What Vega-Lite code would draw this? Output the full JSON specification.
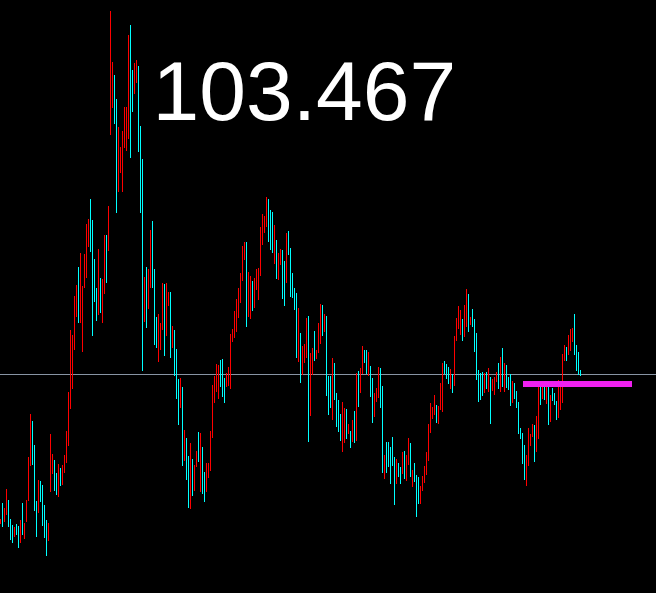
{
  "$schema": "https://vega.github.io/schema/vega-lite/v6.json",
  "width": 656,
  "height": 593,
  "autosize": {"type": "none"},
  "padding": 0,
  "background": "#000000",
  "config": {"view": {"stroke": null}},
  "datasets": {
    "bars": [
      {"i":0,"h":519,"l":524,"d":"u"},{"i":1,"h":503,"l":527,"d":"d"},{"i":2,"h":508,"l":522,"d":"u"},{"i":3,"h":489,"l":515,"d":"u"},
      {"i":4,"h":500,"l":527,"d":"d"},{"i":5,"h":519,"l":540,"d":"d"},{"i":6,"h":525,"l":543,"d":"d"},{"i":7,"h":527,"l":537,"d":"u"},
      {"i":8,"h":524,"l":535,"d":"d"},{"i":9,"h":526,"l":548,"d":"d"},{"i":10,"h":520,"l":543,"d":"u"},{"i":11,"h":503,"l":535,"d":"d"},
      {"i":12,"h":523,"l":539,"d":"u"},{"i":13,"h":500,"l":522,"d":"u"},{"i":14,"h":457,"l":501,"d":"u"},{"i":15,"h":414,"l":466,"d":"u"},
      {"i":16,"h":421,"l":465,"d":"d"},{"i":17,"h":445,"l":511,"d":"d"},{"i":18,"h":501,"l":537,"d":"d"},{"i":19,"h":480,"l":513,"d":"u"},
      {"i":20,"h":481,"l":502,"d":"d"},{"i":21,"h":485,"l":526,"d":"d"},{"i":22,"h":505,"l":538,"d":"d"},{"i":23,"h":520,"l":556,"d":"d"},
      {"i":24,"h":523,"l":541,"d":"u"},{"i":25,"h":434,"l":492,"d":"u"},{"i":26,"h":454,"l":474,"d":"u"},{"i":27,"h":460,"l":491,"d":"d"},
      {"i":28,"h":473,"l":495,"d":"d"},{"i":29,"h":464,"l":497,"d":"u"},{"i":30,"h":468,"l":486,"d":"d"},{"i":31,"h":465,"l":485,"d":"u"},
      {"i":32,"h":455,"l":473,"d":"u"},{"i":33,"h":431,"l":463,"d":"u"},{"i":34,"h":392,"l":446,"d":"u"},{"i":35,"h":330,"l":409,"d":"u"},
      {"i":36,"h":335,"l":389,"d":"u"},{"i":37,"h":296,"l":350,"d":"u"},{"i":38,"h":285,"l":317,"d":"u"},{"i":39,"h":267,"l":323,"d":"d"},
      {"i":40,"h":253,"l":323,"d":"u"},{"i":41,"h":286,"l":352,"d":"u"},{"i":42,"h":254,"l":288,"d":"u"},{"i":43,"h":224,"l":278,"d":"u"},
      {"i":44,"h":219,"l":247,"d":"u"},{"i":45,"h":199,"l":252,"d":"d"},{"i":46,"h":220,"l":336,"d":"d"},{"i":47,"h":259,"l":302,"d":"d"},
      {"i":48,"h":288,"l":321,"d":"d"},{"i":49,"h":249,"l":315,"d":"u"},{"i":50,"h":278,"l":313,"d":"d"},{"i":51,"h":279,"l":323,"d":"u"},
      {"i":52,"h":235,"l":294,"d":"u"},{"i":53,"h":235,"l":283,"d":"d"},{"i":54,"h":206,"l":251,"d":"u"},{"i":55,"h":11,"l":135,"d":"u"},
      {"i":56,"h":62,"l":108,"d":"u"},{"i":57,"h":75,"l":124,"d":"d"},{"i":58,"h":99,"l":213,"d":"d"},{"i":59,"h":127,"l":192,"d":"u"},
      {"i":60,"h":147,"l":173,"d":"u"},{"i":61,"h":131,"l":192,"d":"u"},{"i":62,"h":107,"l":148,"d":"u"},{"i":63,"h":107,"l":151,"d":"u"},
      {"i":64,"h":35,"l":139,"d":"u"},{"i":65,"h":25,"l":158,"d":"d"},{"i":66,"h":70,"l":112,"d":"d"},{"i":67,"h":63,"l":94,"d":"u"},
      {"i":68,"h":60,"l":83,"d":"u"},{"i":69,"h":66,"l":152,"d":"d"},{"i":70,"h":126,"l":213,"d":"d"},{"i":71,"h":159,"l":371,"d":"d"},
      {"i":72,"h":277,"l":322,"d":"u"},{"i":73,"h":267,"l":328,"d":"d"},{"i":74,"h":269,"l":309,"d":"u"},{"i":75,"h":230,"l":288,"d":"u"},
      {"i":76,"h":221,"l":288,"d":"d"},{"i":77,"h":269,"l":345,"d":"d"},{"i":78,"h":317,"l":348,"d":"d"},{"i":79,"h":314,"l":362,"d":"u"},
      {"i":80,"h":323,"l":350,"d":"u"},{"i":81,"h":283,"l":330,"d":"u"},{"i":82,"h":284,"l":356,"d":"d"},{"i":83,"h":283,"l":336,"d":"u"},
      {"i":84,"h":292,"l":306,"d":"u"},{"i":85,"h":292,"l":358,"d":"d"},{"i":86,"h":326,"l":348,"d":"u"},{"i":87,"h":330,"l":376,"d":"d"},
      {"i":88,"h":349,"l":399,"d":"d"},{"i":89,"h":379,"l":425,"d":"d"},{"i":90,"h":378,"l":408,"d":"u"},{"i":91,"h":387,"l":466,"d":"d"},
      {"i":92,"h":430,"l":461,"d":"u"},{"i":93,"h":438,"l":480,"d":"d"},{"i":94,"h":456,"l":508,"d":"d"},{"i":95,"h":443,"l":509,"d":"u"},
      {"i":96,"h":459,"l":496,"d":"d"},{"i":97,"h":465,"l":491,"d":"u"},{"i":98,"h":451,"l":467,"d":"u"},{"i":99,"h":432,"l":462,"d":"d"},
      {"i":100,"h":433,"l":492,"d":"u"},{"i":101,"h":447,"l":494,"d":"d"},{"i":102,"h":472,"l":502,"d":"d"},{"i":103,"h":463,"l":492,"d":"u"},
      {"i":104,"h":463,"l":478,"d":"u"},{"i":105,"h":431,"l":471,"d":"u"},{"i":106,"h":385,"l":438,"d":"u"},{"i":107,"h":376,"l":403,"d":"u"},
      {"i":108,"h":364,"l":392,"d":"u"},{"i":109,"h":365,"l":399,"d":"u"},{"i":110,"h":360,"l":387,"d":"d"},{"i":111,"h":359,"l":397,"d":"d"},
      {"i":112,"h":378,"l":403,"d":"d"},{"i":113,"h":373,"l":387,"d":"u"},{"i":114,"h":367,"l":386,"d":"u"},{"i":115,"h":334,"l":389,"d":"u"},
      {"i":116,"h":329,"l":342,"d":"u"},{"i":117,"h":311,"l":338,"d":"u"},{"i":118,"h":299,"l":332,"d":"u"},{"i":119,"h":288,"l":318,"d":"u"},
      {"i":120,"h":273,"l":303,"d":"u"},{"i":121,"h":246,"l":281,"d":"u"},{"i":122,"h":242,"l":260,"d":"u"},{"i":123,"h":242,"l":327,"d":"d"},
      {"i":124,"h":272,"l":317,"d":"u"},{"i":125,"h":276,"l":319,"d":"u"},{"i":126,"h":281,"l":311,"d":"d"},{"i":127,"h":278,"l":308,"d":"u"},
      {"i":128,"h":269,"l":290,"d":"u"},{"i":129,"h":268,"l":300,"d":"u"},{"i":130,"h":227,"l":276,"d":"u"},{"i":131,"h":214,"l":245,"d":"u"},
      {"i":132,"h":216,"l":233,"d":"u"},{"i":133,"h":197,"l":227,"d":"u"},{"i":134,"h":199,"l":242,"d":"d"},{"i":135,"h":210,"l":250,"d":"d"},
      {"i":136,"h":212,"l":253,"d":"d"},{"i":137,"h":225,"l":264,"d":"u"},{"i":138,"h":240,"l":279,"d":"d"},{"i":139,"h":253,"l":280,"d":"u"},
      {"i":140,"h":249,"l":265,"d":"u"},{"i":141,"h":250,"l":299,"d":"d"},{"i":142,"h":261,"l":306,"d":"d"},{"i":143,"h":233,"l":283,"d":"u"},
      {"i":144,"h":231,"l":255,"d":"d"},{"i":145,"h":248,"l":297,"d":"d"},{"i":146,"h":273,"l":298,"d":"d"},{"i":147,"h":288,"l":310,"d":"d"},
      {"i":148,"h":293,"l":358,"d":"d"},{"i":149,"h":308,"l":362,"d":"u"},{"i":150,"h":333,"l":383,"d":"d"},{"i":151,"h":346,"l":375,"d":"u"},
      {"i":152,"h":344,"l":363,"d":"u"},{"i":153,"h":318,"l":358,"d":"u"},{"i":154,"h":316,"l":442,"d":"d"},{"i":155,"h":353,"l":416,"d":"u"},
      {"i":156,"h":348,"l":375,"d":"u"},{"i":157,"h":331,"l":361,"d":"d"},{"i":158,"h":350,"l":359,"d":"u"},{"i":159,"h":323,"l":353,"d":"u"},
      {"i":160,"h":304,"l":344,"d":"u"},{"i":161,"h":305,"l":336,"d":"d"},{"i":162,"h":314,"l":332,"d":"u"},{"i":163,"h":316,"l":396,"d":"d"},
      {"i":164,"h":376,"l":415,"d":"d"},{"i":165,"h":376,"l":408,"d":"d"},{"i":166,"h":358,"l":420,"d":"u"},{"i":167,"h":363,"l":400,"d":"d"},
      {"i":168,"h":393,"l":427,"d":"d"},{"i":169,"h":400,"l":432,"d":"d"},{"i":170,"h":414,"l":441,"d":"d"},{"i":171,"h":402,"l":452,"d":"u"},
      {"i":172,"h":408,"l":443,"d":"u"},{"i":173,"h":409,"l":439,"d":"d"},{"i":174,"h":424,"l":434,"d":"u"},{"i":175,"h":431,"l":448,"d":"d"},
      {"i":176,"h":420,"l":442,"d":"u"},{"i":177,"h":411,"l":443,"d":"d"},{"i":178,"h":373,"l":441,"d":"u"},{"i":179,"h":371,"l":407,"d":"d"},
      {"i":180,"h":368,"l":393,"d":"u"},{"i":181,"h":346,"l":374,"d":"u"},{"i":182,"h":350,"l":363,"d":"d"},{"i":183,"h":350,"l":374,"d":"d"},
      {"i":184,"h":352,"l":376,"d":"u"},{"i":185,"h":366,"l":397,"d":"d"},{"i":186,"h":378,"l":423,"d":"d"},{"i":187,"h":393,"l":417,"d":"u"},
      {"i":188,"h":388,"l":402,"d":"u"},{"i":189,"h":367,"l":398,"d":"u"},{"i":190,"h":368,"l":408,"d":"d"},{"i":191,"h":386,"l":473,"d":"d"},
      {"i":192,"h":455,"l":479,"d":"u"},{"i":193,"h":442,"l":473,"d":"d"},{"i":194,"h":442,"l":467,"d":"d"},{"i":195,"h":447,"l":484,"d":"d"},
      {"i":196,"h":437,"l":466,"d":"d"},{"i":197,"h":457,"l":505,"d":"d"},{"i":198,"h":459,"l":484,"d":"u"},{"i":199,"h":463,"l":477,"d":"d"},
      {"i":200,"h":467,"l":484,"d":"d"},{"i":201,"h":452,"l":474,"d":"u"},{"i":202,"h":451,"l":479,"d":"d"},{"i":203,"h":455,"l":481,"d":"u"},
      {"i":204,"h":438,"l":465,"d":"u"},{"i":205,"h":443,"l":477,"d":"d"},{"i":206,"h":470,"l":487,"d":"u"},{"i":207,"h":463,"l":482,"d":"d"},
      {"i":208,"h":475,"l":517,"d":"d"},{"i":209,"h":477,"l":504,"d":"d"},{"i":210,"h":486,"l":504,"d":"u"},{"i":211,"h":476,"l":491,"d":"u"},
      {"i":212,"h":466,"l":483,"d":"u"},{"i":213,"h":452,"l":475,"d":"u"},{"i":214,"h":424,"l":461,"d":"u"},{"i":215,"h":403,"l":433,"d":"u"},
      {"i":216,"h":407,"l":419,"d":"u"},{"i":217,"h":395,"l":415,"d":"u"},{"i":218,"h":405,"l":423,"d":"d"},{"i":219,"h":406,"l":424,"d":"u"},
      {"i":220,"h":383,"l":410,"d":"u"},{"i":221,"h":363,"l":412,"d":"u"},{"i":222,"h":361,"l":374,"d":"d"},{"i":223,"h":364,"l":379,"d":"d"},
      {"i":224,"h":367,"l":384,"d":"d"},{"i":225,"h":369,"l":389,"d":"u"},{"i":226,"h":374,"l":393,"d":"d"},{"i":227,"h":336,"l":386,"d":"u"},
      {"i":228,"h":318,"l":341,"d":"u"},{"i":229,"h":306,"l":329,"d":"u"},{"i":230,"h":310,"l":335,"d":"u"},{"i":231,"h":319,"l":341,"d":"d"},
      {"i":232,"h":305,"l":337,"d":"u"},{"i":233,"h":289,"l":327,"d":"u"},{"i":234,"h":294,"l":332,"d":"d"},{"i":235,"h":317,"l":325,"d":"u"},
      {"i":236,"h":309,"l":327,"d":"d"},{"i":237,"h":319,"l":352,"d":"d"},{"i":238,"h":333,"l":380,"d":"d"},{"i":239,"h":370,"l":402,"d":"d"},
      {"i":240,"h":373,"l":400,"d":"d"},{"i":241,"h":372,"l":396,"d":"d"},{"i":242,"h":373,"l":393,"d":"u"},{"i":243,"h":372,"l":389,"d":"d"},
      {"i":244,"h":368,"l":392,"d":"u"},{"i":245,"h":377,"l":424,"d":"d"},{"i":246,"h":379,"l":391,"d":"u"},{"i":247,"h":377,"l":395,"d":"u"},
      {"i":248,"h":372,"l":382,"d":"u"},{"i":249,"h":363,"l":389,"d":"d"},{"i":250,"h":357,"l":392,"d":"u"},{"i":251,"h":348,"l":387,"d":"d"},
      {"i":252,"h":363,"l":392,"d":"u"},{"i":253,"h":365,"l":388,"d":"d"},{"i":254,"h":377,"l":390,"d":"d"},{"i":255,"h":374,"l":406,"d":"d"},
      {"i":256,"h":381,"l":403,"d":"u"},{"i":257,"h":383,"l":399,"d":"d"},{"i":258,"h":391,"l":408,"d":"d"},{"i":259,"h":402,"l":434,"d":"d"},
      {"i":260,"h":428,"l":439,"d":"d"},{"i":261,"h":433,"l":464,"d":"d"},{"i":262,"h":445,"l":480,"d":"d"},{"i":263,"h":455,"l":486,"d":"u"},
      {"i":264,"h":428,"l":466,"d":"u"},{"i":265,"h":434,"l":446,"d":"u"},{"i":266,"h":424,"l":437,"d":"u"},{"i":267,"h":425,"l":462,"d":"d"},
      {"i":268,"h":416,"l":452,"d":"u"},{"i":269,"h":383,"l":439,"d":"u"},{"i":270,"h":383,"l":405,"d":"d"},{"i":271,"h":383,"l":399,"d":"u"},
      {"i":272,"h":383,"l":400,"d":"d"},{"i":273,"h":383,"l":404,"d":"u"},{"i":274,"h":383,"l":425,"d":"d"},{"i":275,"h":395,"l":422,"d":"u"},
      {"i":276,"h":388,"l":401,"d":"d"},{"i":277,"h":393,"l":405,"d":"d"},{"i":278,"h":401,"l":420,"d":"d"},{"i":279,"h":380,"l":418,"d":"u"},
      {"i":280,"h":385,"l":410,"d":"u"},{"i":281,"h":354,"l":403,"d":"u"},{"i":282,"h":345,"l":361,"d":"u"},{"i":283,"h":347,"l":361,"d":"d"},
      {"i":284,"h":335,"l":355,"d":"u"},{"i":285,"h":329,"l":351,"d":"u"},{"i":286,"h":328,"l":342,"d":"u"},{"i":287,"h":314,"l":355,"d":"d"},
      {"i":288,"h":345,"l":371,"d":"d"},{"i":289,"h":352,"l":375,"d":"d"},{"i":290,"h":370,"l":376,"d":"d"}
    ],
    "bid": [{"level": 374.5}],
    "zone": [{"start": 261.25, "end": 315.75, "level": 384}],
    "label": [{"text": "103.467", "bar": 76, "level": 120}]
  },
  "layer": [
    {
      "data": {"name": "bid"},
      "mark": {"type": "rule", "color": "#8894a4", "strokeWidth": 1},
      "encoding": {
        "y": {"field": "level", "type": "quantitative", "scale": {"domain": [0, 593], "reverse": true, "nice": false, "zero": false}, "axis": null}
      }
    },
    {
      "data": {"name": "bars"},
      "mark": {"type": "rule", "strokeWidth": 1},
      "encoding": {
        "x": {"field": "i", "type": "quantitative", "scale": {"domain": [-0.25, 327.75], "nice": false, "zero": false}, "axis": null},
        "y": {"field": "h", "type": "quantitative", "scale": {"domain": [0, 593], "reverse": true, "nice": false, "zero": false}, "axis": null},
        "y2": {"field": "l"},
        "color": {"field": "d", "type": "nominal", "scale": {"domain": ["u", "d"], "range": ["#ff0000", "#00ffff"]}, "legend": null}
      }
    },
    {
      "data": {"name": "zone"},
      "mark": {"type": "rule", "color": "#f020f0", "strokeWidth": 6},
      "encoding": {
        "x": {"field": "start", "type": "quantitative", "scale": {"domain": [-0.25, 327.75], "nice": false, "zero": false}, "axis": null},
        "x2": {"field": "end"},
        "y": {"field": "level", "type": "quantitative", "scale": {"domain": [0, 593], "reverse": true, "nice": false, "zero": false}, "axis": null}
      }
    },
    {
      "data": {"name": "label"},
      "mark": {"type": "text", "font": "Liberation Sans", "fontSize": 84, "color": "#ffffff", "align": "left", "baseline": "alphabetic"},
      "encoding": {
        "x": {"field": "bar", "type": "quantitative", "scale": {"domain": [-0.25, 327.75], "nice": false, "zero": false}, "axis": null},
        "y": {"field": "level", "type": "quantitative", "scale": {"domain": [0, 593], "reverse": true, "nice": false, "zero": false}, "axis": null},
        "text": {"field": "text"}
      }
    }
  ]
}
